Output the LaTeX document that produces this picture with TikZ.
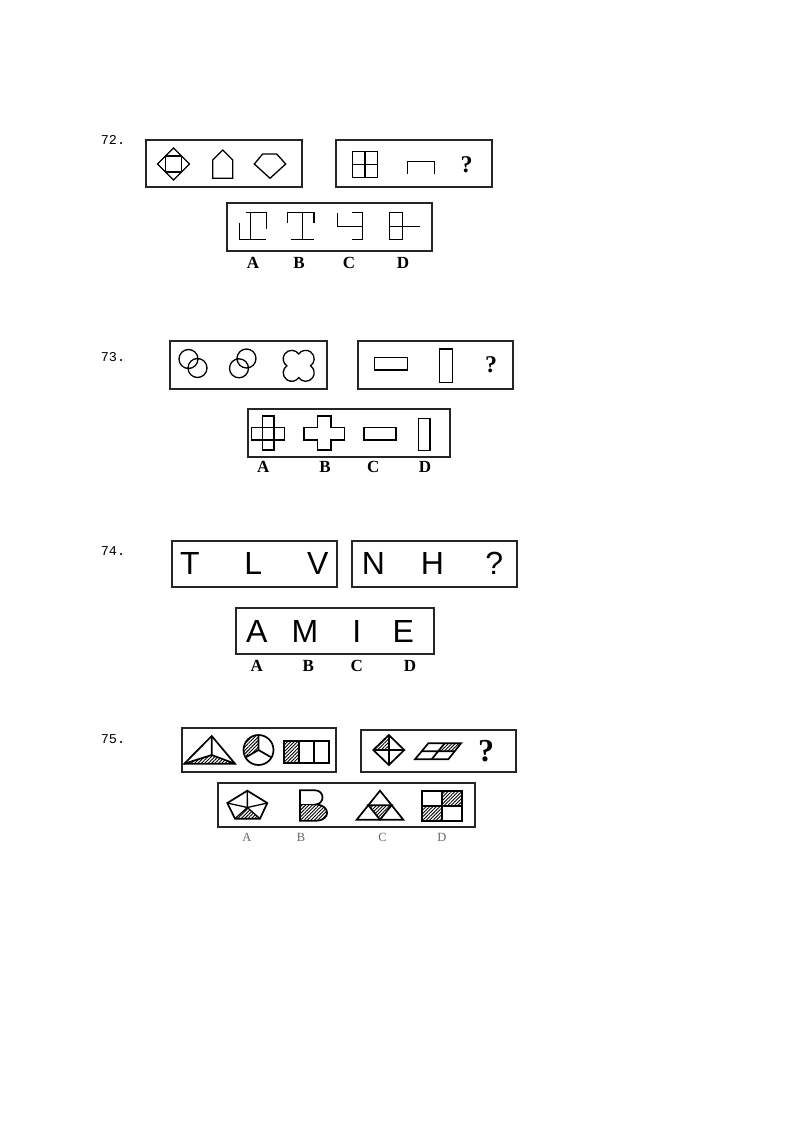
\documentclass[tikz,border=0pt]{standalone}
\usepackage{fontspec}
\setmainfont{Liberation Serif}
\setsansfont{Liberation Sans}
\setmonofont{Liberation Mono}
\usetikzlibrary{patterns.meta}

\begin{document}
\begin{tikzpicture}[
    x=1pt, y=-1pt,
    box/.style={rectangle, draw=black!85, line width=2pt, inner sep=0pt},
    fig/.style={draw, line width=1.3pt},
    thickfig/.style={draw, line width=1.7pt},
    hatch/.style={pattern={Lines[angle=45, distance=2.4pt, line width=0.9pt]}},
    num/.style={font=\ttfamily\fontsize{13.5}{13.5}\selectfont},
    lab/.style={font=\bfseries\fontsize{17}{17}\selectfont},
    glab/.style={font=\fontsize{12.5}{12.5}\selectfont, text=black!60},
    qm/.style={font=\bfseries\fontsize{24}{24}\selectfont},
    bigqm/.style={font=\bfseries\fontsize{32}{32}\selectfont},
    letter/.style={font=\sffamily\fontsize{32}{32}\selectfont}
]
\useasboundingbox (0,0) rectangle (800,1131);

% Question numbers
\node[num] (q72) at (113,140) {72.};
\node[num] (q73) at (113,357) {73.};
\node[num] (q74) at (113,550.7) {74.};
\node[num] (q75) at (113,739.3) {75.};

% ---------- 72 ----------
\node[box, minimum width=156pt, minimum height=47pt] (b72a) at (224,163.5) {};
\node[box, minimum width=156pt, minimum height=47pt] (b72b) at (414,163.5) {};
\node[box, minimum width=205pt, minimum height=48pt] (b72c) at (329.5,227) {};

\draw[fig] (157.5,164) -- (173.5,148) -- (189.5,164) -- (173.5,180) -- cycle;
\draw[fig] (165.5,156) rectangle (181.5,172);
\draw[fig] (212.7,178.3) -- (212.7,160) -- (222.7,150) -- (232.7,160) -- (232.7,178.3) -- cycle;
\draw[fig] (254.3,164) -- (262.7,154) -- (276.7,154) -- (285.7,164) -- (270,178.3) -- cycle;

\draw[fig] (352.3,151.7) rectangle (377.7,177.3);
\draw[fig] (365,151.7) -- (365,177.3) (352.3,164.5) -- (377.7,164.5);
\draw[fig] (407.7,174) -- (407.7,161.7) -- (434.3,161.7) -- (434.3,174);
\node[qm] (qm72) at (466.7,165) {?};

\draw[fig] (245.7,212.7) -- (266.3,212.7) -- (266.3,229.3);
\draw[fig] (250.7,212.7) -- (250.7,239.3);
\draw[fig] (239.7,222.7) -- (239.7,239.3) -- (266.3,239.3);
\draw[fig] (287.3,222.7) -- (287.3,212.7) -- (314,212.7) -- (314,222.7);
\draw[fig] (302.3,212.7) -- (302.3,239.3) (291.3,239.3) -- (314,239.3);
\draw[fig] (337.3,212.7) -- (337.3,226.7) -- (362.3,226.7);
\draw[fig] (352.3,212.7) -- (362.3,212.7) -- (362.3,239.3) -- (352.3,239.3);
\draw[fig] (389.7,212.7) rectangle (402.3,239.3);
\draw[fig] (389.7,226.7) -- (419.7,226.7);

\node[lab] (l72a) at (253,263) {A};
\node[lab] (l72b) at (299,263) {B};
\node[lab] (l72c) at (349,263) {C};
\node[lab] (l72d) at (403,263) {D};

% ---------- 73 ----------
\node[box, minimum width=157pt, minimum height=48pt] (b73a) at (248.7,365.2) {};
\node[box, minimum width=155pt, minimum height=48pt] (b73b) at (435.8,365.2) {};
\node[box, minimum width=202pt, minimum height=48pt] (b73c) at (348.5,432.8) {};

\draw[fig] (188.5,359) circle[radius=9.5] (197.5,368) circle[radius=9.5];
\draw[fig] (246.5,358.5) circle[radius=9.5] (239,368.3) circle[radius=9.5];
\begin{scope}[shift={(298.7,365.8)}]
\draw[fig] (0,11.83) arc[start angle=34.6, end angle=235.4, radius=8.5]
    arc[start angle=124.6, end angle=325.4, radius=8.5]
    arc[start angle=214.6, end angle=415.4, radius=8.5]
    arc[start angle=304.6, end angle=505.4, radius=8.5] -- cycle;
\end{scope}

\draw[fig] (374.3,357.3) rectangle (407.3,370);
\draw[fig] (439.3,349) rectangle (452.3,382.7);
\node[qm] (qm73) at (491,364.3) {?};

\draw[fig] (251.7,427.7) rectangle (284.3,440);
\draw[fig] (262.3,416) rectangle (274,450);
\draw[fig] (317.7,416) -- (331,416) -- (331,427.7) -- (344.3,427.7) -- (344.3,440)
    -- (331,440) -- (331,450) -- (317.7,450) -- (317.7,440) -- (304,440)
    -- (304,427.7) -- (317.7,427.7) -- cycle;
\draw[fig] (364,427.7) rectangle (396,440);
\draw[fig] (418.3,418.3) rectangle (430,450.7);

\node[lab] (l73a) at (263.3,466.7) {A};
\node[lab] (l73b) at (325,466.7) {B};
\node[lab] (l73c) at (373.3,466.7) {C};
\node[lab] (l73d) at (425,466.7) {D};

% ---------- 74 ----------
\node[box, minimum width=165.6pt, minimum height=46.3pt] (b74a) at (254.5,564.2) {};
\node[box, minimum width=165pt, minimum height=46pt] (b74b) at (434.2,563.8) {};
\node[box, minimum width=198.6pt, minimum height=46.6pt] (b74c) at (335,631) {};

\node[letter] (t74) at (190,563.3) {T};
\node[letter] (l74) at (253.3,563.3) {L};
\node[letter] (v74) at (317.7,563.3) {V};
\node[letter] (n74) at (373.3,563.3) {N};
\node[letter] (h74) at (432.3,563.3) {H};
\node[letter] (qm74) at (494.3,563.3) {?};

\node[letter] (a74) at (256.7,631.7) {A};
\node[letter] (m74) at (305,631.7) {M};
\node[letter] (i74) at (356.7,631.7) {I};
\node[letter] (e74) at (403.3,631.7) {E};

\node[lab] (l74a) at (256.7,666) {A};
\node[lab] (l74b) at (308.3,666) {B};
\node[lab] (l74c) at (356.7,666) {C};
\node[lab] (l74d) at (410,666) {D};

% ---------- 75 ----------
\node[box, line width=2.3pt, minimum width=154pt, minimum height=43.4pt] (b75a) at (258.7,750) {};
\node[box, line width=2.3pt, minimum width=155.3pt, minimum height=41.7pt] (b75b) at (438.3,750.8) {};
\node[box, line width=2.3pt, minimum width=257.3pt, minimum height=43.4pt] (b75c) at (346.3,805) {};

\fill[hatch] (184.3,763.7) -- (235,763.7) -- (211.7,755) -- cycle;
\draw[thickfig] (211.7,736) -- (184.3,763.7) -- (235,763.7) -- cycle;
\draw[thickfig] (211.7,755) -- (211.7,736) (211.7,755) -- (184.3,763.7) (211.7,755) -- (235,763.7);

\fill[hatch] (258.5,750) -- (258.5,735) arc[start angle=270, end angle=150, radius=15] -- cycle;
\draw[thickfig] (258.5,750) circle[radius=15];
\draw[thickfig] (258.5,750) -- (258.5,735) (258.5,750) -- (245.5,757.5) (258.5,750) -- (271.5,757.5);

\fill[hatch] (284.3,741) rectangle (299.2,763);
\draw[thickfig] (284.3,741) rectangle (329,763);
\draw[thickfig] (299.2,741) -- (299.2,763) (314.1,741) -- (314.1,763);

\fill[hatch] (388.8,750) -- (373.3,750) -- (388.8,735) -- cycle;
\draw[thickfig] (373.3,750) -- (388.8,735) -- (404.3,750) -- (388.8,765) -- cycle;
\draw[thickfig] (388.8,735) -- (388.8,765) (373.3,750) -- (404.3,750);

\fill[hatch] (444.65,743.3) -- (461,743.3) -- (454.65,751.3) -- (438.15,751.3) -- cycle;
\draw[thickfig] (415,759.3) -- (448.3,759.3) -- (461,743.3) -- (428.3,743.3) -- cycle;
\draw[thickfig] (421.65,751.3) -- (454.65,751.3) (431.65,759.3) -- (444.65,743.3);
\node[bigqm] (qm75) at (486,751) {?};

\fill[hatch] (235,818.7) -- (260,818.7) -- (247.4,807.5) -- cycle;
\draw[thickfig] (247.3,790.7) -- (267.3,803) -- (260,818.7) -- (235,818.7) -- (227.3,803) -- cycle;
\foreach \p in {(247.3,790.7),(267.3,803),(260,818.7),(235,818.7),(227.3,803)}
    \draw[fig] (247.4,807.5) -- \p;

\fill[hatch] (300,804.5) -- (315,804.5) .. controls (331,804.5) and (331,820.7) .. (316,820.7)
    -- (300,820.7) -- cycle;
\draw[thickfig] (300,790.3) -- (315,790.3) .. controls (325,790.3) and (325,804.5) .. (315,804.5)
    .. controls (331,804.5) and (331,820.7) .. (316,820.7) -- (300,820.7) -- cycle;
\draw[thickfig] (300,804.5) -- (315,804.5);

\fill[hatch] (368.35,805.2) -- (391.65,805.2) -- (380,819.7) -- cycle;
\draw[thickfig] (380,790.7) -- (356.7,819.7) -- (403.3,819.7) -- cycle;
\draw[thickfig] (368.35,805.2) -- (391.65,805.2) -- (380,819.7) -- cycle;

\fill[hatch] (441.7,791.3) rectangle (461.7,806);
\fill[hatch] (421.7,806) rectangle (441.7,820.7);
\draw[thickfig] (421.7,791.3) rectangle (461.7,820.7);
\draw[thickfig] (441.7,791.3) -- (441.7,820.7) (421.7,806) -- (461.7,806);

\node[glab] (l75a) at (247,837.5) {A};
\node[glab] (l75b) at (301,837.5) {B};
\node[glab] (l75c) at (382.5,837.5) {C};
\node[glab] (l75d) at (442,837.5) {D};

\end{tikzpicture}
\end{document}
